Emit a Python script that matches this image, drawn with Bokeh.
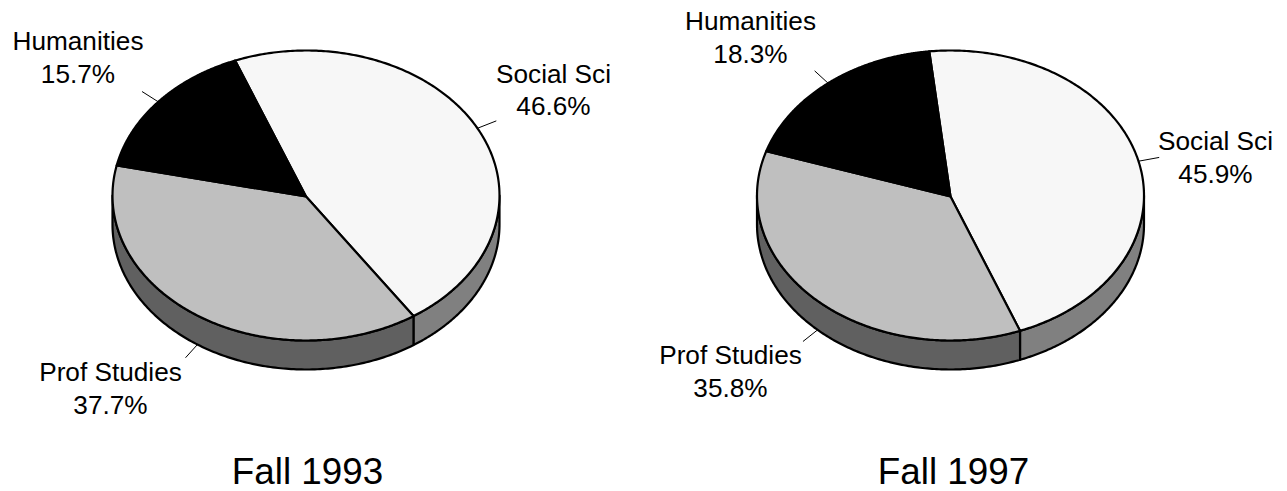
import numpy as np
from bokeh.plotting import figure
from bokeh.embed import file_html
from bokeh.resources import INLINE
from bokeh.core.properties import value

categories = ["Social Sci", "Prof Studies", "Humanities"]
shares_1993 = [46.6, 37.7, 15.7]
shares_1997 = [45.9, 35.8, 18.3]
titles = ["Fall 1993", "Fall 1997"]

top_colors = ["#f7f7f7", "#bfbfbf", "#000000"]
side_colors = ["#808080", "#606060", "#000000"]

W, H = 1287, 491
p = figure(width=W, height=H, x_range=(0, W), y_range=(H, 0),
           output_backend="svg", toolbar_location=None,
           x_axis_location=None, y_axis_location=None, min_border=0)
p.grid.visible = False
p.outline_line_color = None
p.background_fill_color = "white"
p.border_fill_color = "white"

RX, RY, DEPTH, LEAD = 193.5, 145.0, 29.0, 1.11
LABEL_SIZE, TITLE_SIZE = 26.2, 36.8


def pt(cx, cy, deg):
    t = np.radians(deg)
    return cx + RX * np.sin(t), cy - RY * np.cos(t)


def pie(cx, cy, start, shares, label_pos, title_pos, title):
    edges = start + np.cumsum([0] + list(shares)) * 3.6
    for i in range(3):
        a, b = edges[i], edges[i + 1]
        lo, hi = max(a, 90), min(b, 270)
        if hi <= lo:
            continue
        th = np.linspace(lo, hi, 160)
        x, y = pt(cx, cy, th)
        p.patch(list(x) + list(x[::-1]), list(y) + list((y + DEPTH)[::-1]),
                fill_color=side_colors[i], line_color="black", line_width=2.2,
                line_join="round")
    for i in range(3):
        th = np.linspace(edges[i], edges[i + 1], 240)
        x, y = pt(cx, cy, th)
        p.patch([cx] + list(x), [cy + 1] + list(y), fill_color=top_colors[i],
                line_color="black", line_width=2.2, line_join="round")
    for i in range(3):
        mid = (edges[i] + edges[i + 1]) / 2
        x0, y0 = pt(cx, cy, mid)
        t = np.radians(mid)
        x1 = cx + LEAD * RX * np.sin(t)
        y1 = cy - LEAD * RY * np.cos(t)
        off = DEPTH if np.cos(t) < 0 else 0
        p.segment([x0], [y0 + off], [x1], [y1 + off], line_color="black", line_width=1)
        lx, ly = label_pos[i]
        shift = 0.36 * LABEL_SIZE
        p.text([lx, lx], [ly - shift, ly + 32.5 - shift],
               text=[categories[i], f"{shares[i]:.1f}%"],
               text_font=value("Liberation Sans"), text_font_size=f"{LABEL_SIZE}px",
               text_align="center", text_baseline="middle", text_color="black")
    p.text([title_pos[0]], [title_pos[1] - 0.36 * TITLE_SIZE], text=[title],
           text_font=value("Liberation Sans"), text_font_size=f"{TITLE_SIZE}px",
           text_align="center", text_baseline="middle", text_color="black")


pie(305.5, 195, -21.5, shares_1993,
    [(553, 82.5), (110, 381), (77.5, 50)], (307, 484), titles[0])
pie(950, 195, -6.3, shares_1997,
    [(1215, 150), (730, 364), (750, 30)], (953, 484), titles[1])

open("out.html", "w").write(file_html(p, INLINE))
